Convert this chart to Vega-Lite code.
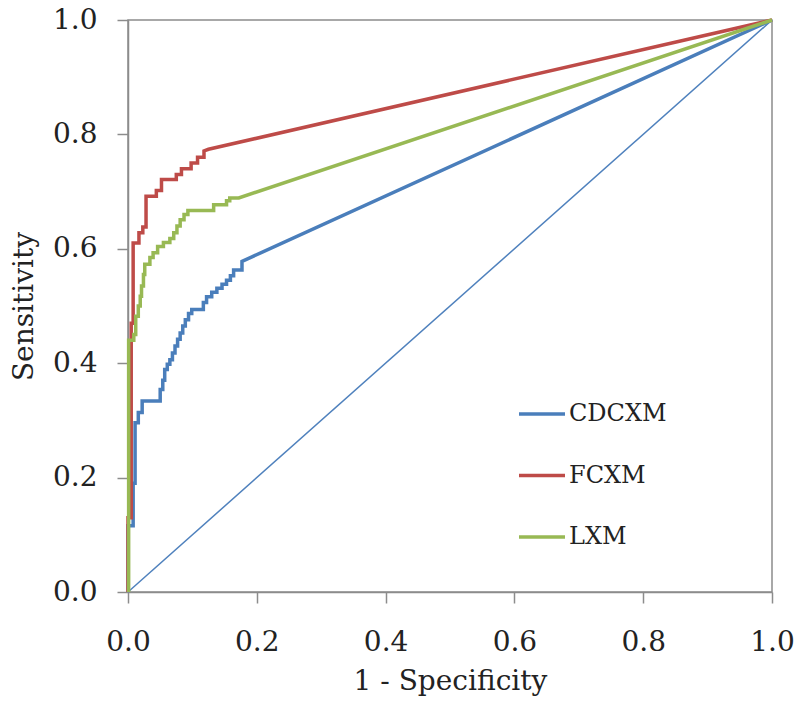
{
  "$schema": "https://vega.github.io/schema/vega-lite/v6.json",
  "width": 644,
  "height": 572,
  "autosize": {"type": "none"},
  "padding": {"left": 128, "top": 20, "right": 28, "bottom": 112},
  "background": "white",
  "config": {
    "view": {"stroke": "#8c8c8c", "strokeWidth": 1.5},
    "font": "DejaVu Serif",
    "axis": {
      "labelFont": "DejaVu Serif",
      "titleFont": "DejaVu Serif",
      "labelFontSize": 28,
      "titleFontSize": 28,
      "titleFontWeight": "normal",
      "labelColor": "#222",
      "titleColor": "#222",
      "domainColor": "#8c8c8c",
      "domainWidth": 1.5,
      "tickColor": "#8c8c8c",
      "tickWidth": 1.5,
      "tickSize": 11,
      "labelFlush": false,
      "grid": false
    },
    "legend": {
      "labelFont": "DejaVu Serif",
      "labelFontSize": 24,
      "labelColor": "#222"
    }
  },
  "datasets": {
    "roc": [
      {"s": "CDCXM", "i": 0, "fpr": 0, "tpr": 0},
      {"s": "CDCXM", "i": 1, "fpr": 0, "tpr": 0.116},
      {"s": "CDCXM", "i": 2, "fpr": 0.008, "tpr": 0.116},
      {"s": "CDCXM", "i": 3, "fpr": 0.008, "tpr": 0.19},
      {"s": "CDCXM", "i": 4, "fpr": 0.011, "tpr": 0.19},
      {"s": "CDCXM", "i": 5, "fpr": 0.011, "tpr": 0.296},
      {"s": "CDCXM", "i": 6, "fpr": 0.016, "tpr": 0.296},
      {"s": "CDCXM", "i": 7, "fpr": 0.016, "tpr": 0.314},
      {"s": "CDCXM", "i": 8, "fpr": 0.022, "tpr": 0.314},
      {"s": "CDCXM", "i": 9, "fpr": 0.022, "tpr": 0.334},
      {"s": "CDCXM", "i": 10, "fpr": 0.05, "tpr": 0.334},
      {"s": "CDCXM", "i": 11, "fpr": 0.05, "tpr": 0.354},
      {"s": "CDCXM", "i": 12, "fpr": 0.054, "tpr": 0.354},
      {"s": "CDCXM", "i": 13, "fpr": 0.054, "tpr": 0.37},
      {"s": "CDCXM", "i": 14, "fpr": 0.057, "tpr": 0.37},
      {"s": "CDCXM", "i": 15, "fpr": 0.057, "tpr": 0.389},
      {"s": "CDCXM", "i": 16, "fpr": 0.061, "tpr": 0.389},
      {"s": "CDCXM", "i": 17, "fpr": 0.061, "tpr": 0.398},
      {"s": "CDCXM", "i": 18, "fpr": 0.065, "tpr": 0.398},
      {"s": "CDCXM", "i": 19, "fpr": 0.065, "tpr": 0.406},
      {"s": "CDCXM", "i": 20, "fpr": 0.069, "tpr": 0.406},
      {"s": "CDCXM", "i": 21, "fpr": 0.069, "tpr": 0.418},
      {"s": "CDCXM", "i": 22, "fpr": 0.073, "tpr": 0.418},
      {"s": "CDCXM", "i": 23, "fpr": 0.073, "tpr": 0.43},
      {"s": "CDCXM", "i": 24, "fpr": 0.077, "tpr": 0.43},
      {"s": "CDCXM", "i": 25, "fpr": 0.077, "tpr": 0.442},
      {"s": "CDCXM", "i": 26, "fpr": 0.081, "tpr": 0.442},
      {"s": "CDCXM", "i": 27, "fpr": 0.081, "tpr": 0.453},
      {"s": "CDCXM", "i": 28, "fpr": 0.085, "tpr": 0.453},
      {"s": "CDCXM", "i": 29, "fpr": 0.085, "tpr": 0.465},
      {"s": "CDCXM", "i": 30, "fpr": 0.089, "tpr": 0.465},
      {"s": "CDCXM", "i": 31, "fpr": 0.089, "tpr": 0.476},
      {"s": "CDCXM", "i": 32, "fpr": 0.094, "tpr": 0.476},
      {"s": "CDCXM", "i": 33, "fpr": 0.094, "tpr": 0.487},
      {"s": "CDCXM", "i": 34, "fpr": 0.099, "tpr": 0.487},
      {"s": "CDCXM", "i": 35, "fpr": 0.099, "tpr": 0.494},
      {"s": "CDCXM", "i": 36, "fpr": 0.117, "tpr": 0.494},
      {"s": "CDCXM", "i": 37, "fpr": 0.117, "tpr": 0.506},
      {"s": "CDCXM", "i": 38, "fpr": 0.122, "tpr": 0.506},
      {"s": "CDCXM", "i": 39, "fpr": 0.122, "tpr": 0.516},
      {"s": "CDCXM", "i": 40, "fpr": 0.13, "tpr": 0.516},
      {"s": "CDCXM", "i": 41, "fpr": 0.13, "tpr": 0.524},
      {"s": "CDCXM", "i": 42, "fpr": 0.138, "tpr": 0.524},
      {"s": "CDCXM", "i": 43, "fpr": 0.138, "tpr": 0.531},
      {"s": "CDCXM", "i": 44, "fpr": 0.146, "tpr": 0.531},
      {"s": "CDCXM", "i": 45, "fpr": 0.146, "tpr": 0.538},
      {"s": "CDCXM", "i": 46, "fpr": 0.153, "tpr": 0.538},
      {"s": "CDCXM", "i": 47, "fpr": 0.153, "tpr": 0.545},
      {"s": "CDCXM", "i": 48, "fpr": 0.159, "tpr": 0.545},
      {"s": "CDCXM", "i": 49, "fpr": 0.159, "tpr": 0.553},
      {"s": "CDCXM", "i": 50, "fpr": 0.164, "tpr": 0.553},
      {"s": "CDCXM", "i": 51, "fpr": 0.164, "tpr": 0.563},
      {"s": "CDCXM", "i": 52, "fpr": 0.177, "tpr": 0.563},
      {"s": "CDCXM", "i": 53, "fpr": 0.177, "tpr": 0.578},
      {"s": "CDCXM", "i": 54, "fpr": 1, "tpr": 1},
      {"s": "FCXM", "i": 0, "fpr": 0, "tpr": 0},
      {"s": "FCXM", "i": 1, "fpr": 0, "tpr": 0.13},
      {"s": "FCXM", "i": 2, "fpr": 0.005, "tpr": 0.13},
      {"s": "FCXM", "i": 3, "fpr": 0.005, "tpr": 0.47},
      {"s": "FCXM", "i": 4, "fpr": 0.008, "tpr": 0.47},
      {"s": "FCXM", "i": 5, "fpr": 0.008, "tpr": 0.61},
      {"s": "FCXM", "i": 6, "fpr": 0.017, "tpr": 0.61},
      {"s": "FCXM", "i": 7, "fpr": 0.017, "tpr": 0.628},
      {"s": "FCXM", "i": 8, "fpr": 0.023, "tpr": 0.628},
      {"s": "FCXM", "i": 9, "fpr": 0.023, "tpr": 0.638},
      {"s": "FCXM", "i": 10, "fpr": 0.028, "tpr": 0.638},
      {"s": "FCXM", "i": 11, "fpr": 0.028, "tpr": 0.692},
      {"s": "FCXM", "i": 12, "fpr": 0.044, "tpr": 0.692},
      {"s": "FCXM", "i": 13, "fpr": 0.044, "tpr": 0.702},
      {"s": "FCXM", "i": 14, "fpr": 0.052, "tpr": 0.702},
      {"s": "FCXM", "i": 15, "fpr": 0.052, "tpr": 0.721},
      {"s": "FCXM", "i": 16, "fpr": 0.075, "tpr": 0.721},
      {"s": "FCXM", "i": 17, "fpr": 0.075, "tpr": 0.73},
      {"s": "FCXM", "i": 18, "fpr": 0.083, "tpr": 0.73},
      {"s": "FCXM", "i": 19, "fpr": 0.083, "tpr": 0.74},
      {"s": "FCXM", "i": 20, "fpr": 0.098, "tpr": 0.74},
      {"s": "FCXM", "i": 21, "fpr": 0.098, "tpr": 0.75},
      {"s": "FCXM", "i": 22, "fpr": 0.108, "tpr": 0.75},
      {"s": "FCXM", "i": 23, "fpr": 0.108, "tpr": 0.76},
      {"s": "FCXM", "i": 24, "fpr": 0.118, "tpr": 0.76},
      {"s": "FCXM", "i": 25, "fpr": 0.118, "tpr": 0.771},
      {"s": "FCXM", "i": 26, "fpr": 0.125, "tpr": 0.774},
      {"s": "FCXM", "i": 27, "fpr": 1, "tpr": 1},
      {"s": "LXM", "i": 0, "fpr": 0.001, "tpr": 0},
      {"s": "LXM", "i": 1, "fpr": 0.001, "tpr": 0.44},
      {"s": "LXM", "i": 2, "fpr": 0.009, "tpr": 0.44},
      {"s": "LXM", "i": 3, "fpr": 0.009, "tpr": 0.45},
      {"s": "LXM", "i": 4, "fpr": 0.012, "tpr": 0.45},
      {"s": "LXM", "i": 5, "fpr": 0.012, "tpr": 0.482},
      {"s": "LXM", "i": 6, "fpr": 0.016, "tpr": 0.482},
      {"s": "LXM", "i": 7, "fpr": 0.016, "tpr": 0.5},
      {"s": "LXM", "i": 8, "fpr": 0.019, "tpr": 0.5},
      {"s": "LXM", "i": 9, "fpr": 0.019, "tpr": 0.517},
      {"s": "LXM", "i": 10, "fpr": 0.021, "tpr": 0.517},
      {"s": "LXM", "i": 11, "fpr": 0.021, "tpr": 0.535},
      {"s": "LXM", "i": 12, "fpr": 0.024, "tpr": 0.535},
      {"s": "LXM", "i": 13, "fpr": 0.024, "tpr": 0.555},
      {"s": "LXM", "i": 14, "fpr": 0.026, "tpr": 0.555},
      {"s": "LXM", "i": 15, "fpr": 0.026, "tpr": 0.573},
      {"s": "LXM", "i": 16, "fpr": 0.034, "tpr": 0.573},
      {"s": "LXM", "i": 17, "fpr": 0.034, "tpr": 0.585},
      {"s": "LXM", "i": 18, "fpr": 0.039, "tpr": 0.585},
      {"s": "LXM", "i": 19, "fpr": 0.039, "tpr": 0.593},
      {"s": "LXM", "i": 20, "fpr": 0.046, "tpr": 0.593},
      {"s": "LXM", "i": 21, "fpr": 0.046, "tpr": 0.604},
      {"s": "LXM", "i": 22, "fpr": 0.055, "tpr": 0.604},
      {"s": "LXM", "i": 23, "fpr": 0.055, "tpr": 0.611},
      {"s": "LXM", "i": 24, "fpr": 0.065, "tpr": 0.611},
      {"s": "LXM", "i": 25, "fpr": 0.065, "tpr": 0.618},
      {"s": "LXM", "i": 26, "fpr": 0.071, "tpr": 0.618},
      {"s": "LXM", "i": 27, "fpr": 0.071, "tpr": 0.628},
      {"s": "LXM", "i": 28, "fpr": 0.076, "tpr": 0.628},
      {"s": "LXM", "i": 29, "fpr": 0.076, "tpr": 0.64},
      {"s": "LXM", "i": 30, "fpr": 0.081, "tpr": 0.64},
      {"s": "LXM", "i": 31, "fpr": 0.081, "tpr": 0.651},
      {"s": "LXM", "i": 32, "fpr": 0.087, "tpr": 0.651},
      {"s": "LXM", "i": 33, "fpr": 0.087, "tpr": 0.66},
      {"s": "LXM", "i": 34, "fpr": 0.093, "tpr": 0.66},
      {"s": "LXM", "i": 35, "fpr": 0.093, "tpr": 0.667},
      {"s": "LXM", "i": 36, "fpr": 0.133, "tpr": 0.667},
      {"s": "LXM", "i": 37, "fpr": 0.133, "tpr": 0.677},
      {"s": "LXM", "i": 38, "fpr": 0.153, "tpr": 0.677},
      {"s": "LXM", "i": 39, "fpr": 0.153, "tpr": 0.684},
      {"s": "LXM", "i": 40, "fpr": 0.158, "tpr": 0.684},
      {"s": "LXM", "i": 41, "fpr": 0.158, "tpr": 0.689},
      {"s": "LXM", "i": 42, "fpr": 0.172, "tpr": 0.689},
      {"s": "LXM", "i": 43, "fpr": 1, "tpr": 1}
    ],
    "diag": [
      {"i": 0, "fpr": 0, "tpr": 0},
      {"i": 1, "fpr": 1, "tpr": 1}
    ]
  },
  "layer": [
    {
      "data": {"name": "diag"},
      "mark": {"type": "line", "color": "#4F81BD", "strokeWidth": 1.5},
      "encoding": {
        "x": {"field": "fpr", "type": "quantitative", "scale": {"domain": [0, 1]},
          "axis": {"title": "1 - Specificity", "values": [0, 0.2, 0.4, 0.6, 0.8, 1], "format": ".1f", "labelPadding": 25, "titlePadding": 11}},
        "y": {"field": "tpr", "type": "quantitative", "scale": {"domain": [0, 1]},
          "axis": {"title": "Sensitivity", "values": [0, 0.2, 0.4, 0.6, 0.8, 1], "format": ".1f", "labelPadding": 20, "titlePadding": 14}},
        "order": {"field": "i", "type": "quantitative"}
      }
    },
    {
      "data": {"name": "roc"},
      "mark": {"type": "line", "strokeWidth": 3.5, "strokeJoin": "miter"},
      "encoding": {
        "x": {"field": "fpr", "type": "quantitative"},
        "y": {"field": "tpr", "type": "quantitative"},
        "order": {"field": "i", "type": "quantitative"},
        "color": {
          "field": "s", "type": "nominal",
          "scale": {"domain": ["CDCXM", "FCXM", "LXM"], "range": ["#4A7EBB", "#BE4B48", "#98B954"]},
          "legend": {
            "title": null,
            "orient": "none",
            "legendX": 389,
            "legendY": 369,
            "padding": 0,
            "symbolType": "stroke",
            "symbolSize": 2116,
            "symbolStrokeWidth": 3.5,
            "labelOffset": 2,
            "rowPadding": 24.5
          }
        }
      }
    }
  ]
}
